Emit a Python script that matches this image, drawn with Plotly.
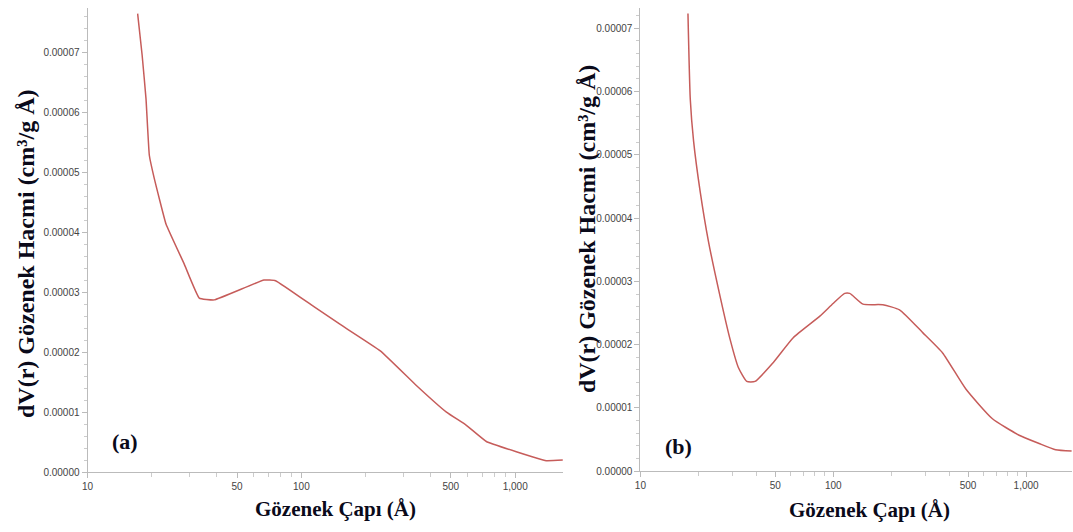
import plotly.graph_objects as go
import math

W, H = 1073, 532

# Panel (a)
pore_a = [17.15, 18.0, 18.77, 19.45, 20.5, 23.3, 28.3, 33.3, 39.1, 66.8, 75.7, 114, 152, 234, 346, 477, 591, 733, 1012, 1396, 1671]
vol_a = [7.64, 6.95, 6.22, 5.28, 4.90, 4.13, 3.47, 2.90, 2.87, 3.20, 3.19, 2.76, 2.46, 2.02, 1.44, 1.00, 0.78, 0.51, 0.34, 0.19, 0.20]
vol_a = [v * 1e-5 for v in vol_a]

# Panel (b)
pore_b = [17.64, 18.13, 18.87, 20.4, 22.5, 25.9, 29.2, 32.2, 35.6, 39.3, 48.9, 62, 85.2, 99.8, 114.6, 121.7, 142.6, 180.8, 220.6, 291, 369, 487, 669, 920, 1167, 1423, 1722]
vol_b = [7.23, 5.88, 5.21, 4.42, 3.64, 2.76, 2.08, 1.64, 1.42, 1.42, 1.72, 2.11, 2.45, 2.65, 2.81, 2.81, 2.64, 2.63, 2.55, 2.19, 1.87, 1.30, 0.83, 0.57, 0.44, 0.34, 0.32]
vol_b = [v * 1e-5 for v in vol_b]

x_tickvals = [10, 50, 100, 500, 1000]
x_ticktext = ["10", "50", "100", "500", "1,000"]
x_minor = [20, 30, 40, 60, 70, 80, 90, 200, 300, 400, 600, 700, 800, 900]
y_tickvals = [0, 1e-5, 2e-5, 3e-5, 4e-5, 5e-5, 6e-5, 7e-5]
y_ticktext = ["0.00000", "0.00001", "0.00002", "0.00003", "0.00004", "0.00005", "0.00006", "0.00007"]

line_color = "#c65c5a"
fig = go.Figure()
fig.add_trace(go.Scatter(x=pore_a, y=vol_a, mode="lines",
                         line=dict(color=line_color, width=1.5, shape="spline", smoothing=0.3),
                         xaxis="x", yaxis="y", showlegend=False))
fig.add_trace(go.Scatter(x=pore_b, y=vol_b, mode="lines",
                         line=dict(color=line_color, width=1.5, shape="spline", smoothing=0.5),
                         xaxis="x2", yaxis="y2", showlegend=False))

tickfont = dict(family="Liberation Sans, Arial", size=10, color="#444")

def xax(domain, rng, anchor):
    return dict(type="log", domain=domain, range=rng, anchor=anchor,
                tickmode="array", tickvals=x_tickvals, ticktext=x_ticktext,
                ticks="outside", ticklen=5, tickcolor="#bbb", tickfont=tickfont,
                showline=True, linecolor="#bbb", linewidth=1, showgrid=False, zeroline=False,
                minor=dict(ticks="outside", tickvals=x_minor, ticklen=4, tickcolor="#ccc", showgrid=False))

def yax(domain, rng, anchor):
    return dict(domain=domain, range=rng, anchor=anchor,
                tickmode="array", tickvals=y_tickvals, ticktext=y_ticktext,
                ticks="outside", ticklen=5, tickcolor="#bbb", tickfont=tickfont,
                showline=True, linecolor="#bbb", linewidth=1, showgrid=False, zeroline=False,
                minor=dict(ticks="outside", dtick=2e-6, ticklen=3, tickcolor="#ccc", showgrid=False))

fig.update_layout(
    width=W, height=H, margin=dict(l=0, r=0, t=0, b=0),
    paper_bgcolor="white", plot_bgcolor="white",
    xaxis=xax([82 / W, 560 / W], [1, math.log10(1671)], "y"),
    yaxis=yax([(H - 477.5) / H, (H - 8) / H], [0, 7.735e-5], "x"),
    xaxis2=xax([638 / W, 1072 / W], [1, math.log10(1730)], "y2"),
    yaxis2=yax([(H - 476.7) / H, (H - 8) / H], [0, 7.318e-5], "x2"),
)

ytitle_font = dict(family="Liberation Serif, Times New Roman", size=24, color="#0a0a1a")
xtitle_font = dict(family="Liberation Serif, Times New Roman", size=21, color="#0a0a1a")
ann = [
    dict(text="<b>dV(r) Gözenek Hacmi (cm³/g Å)</b>", x=20 / W, y=(H - 257) / H, textangle=-90, font=ytitle_font),
    dict(text="<b>dV(r) Gözenek Hacmi (cm³/g Å)</b>", x=585 / W, y=(H - 232) / H, textangle=-90, font=ytitle_font),
    dict(text="<b>Gözenek Çapı (Å)</b>", x=331 / W, y=(H - 515) / H, font=xtitle_font),
    dict(text="<b>Gözenek Çapı (Å)</b>", x=868 / W, y=(H - 516) / H, font=xtitle_font),
]
for a in ann:
    fig.add_annotation(xref="paper", yref="paper", showarrow=False, xanchor="center", yanchor="middle", **a)

label_font = dict(family="Liberation Serif, Times New Roman", size=22, color="#0a0a1a")
fig.add_annotation(xref="paper", yref="paper", x=120 / W, y=(H - 447) / H, text="<b>(a)</b>",
                   showarrow=False, font=label_font, xanchor="center", yanchor="middle")
fig.add_annotation(xref="paper", yref="paper", x=676 / W, y=(H - 452) / H, text="<b>(b)</b>",
                   showarrow=False, font=label_font, xanchor="center", yanchor="middle")

fig.write_html("out.html")
